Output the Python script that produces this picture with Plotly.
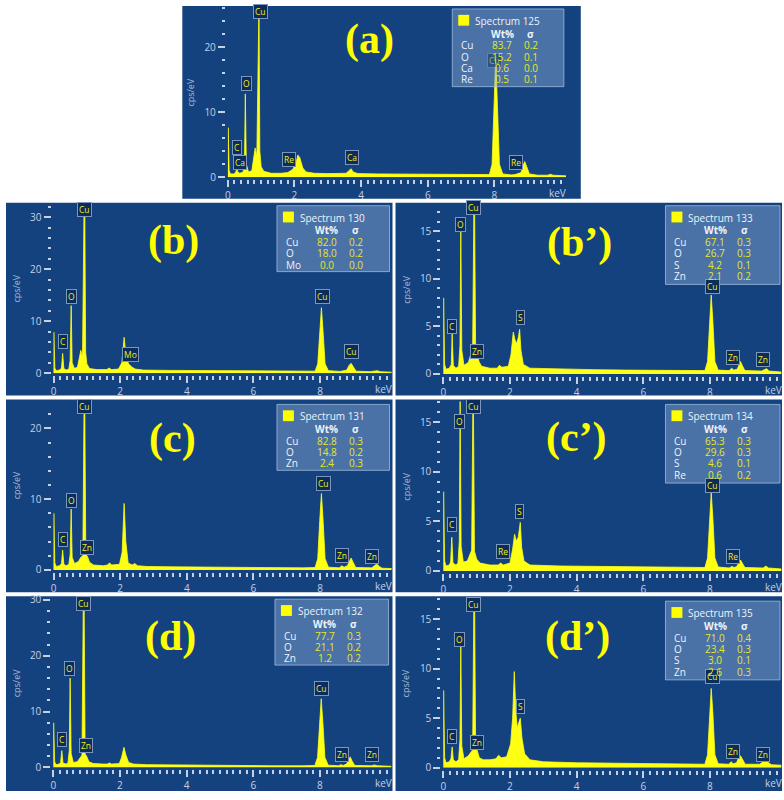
import plotly.graph_objects as go

W, H = 784, 800

# ---- data ----
panel_keys = ["a", "b", "b2", "c", "c2", "d", "d2"]
panel_names = ["(a)", "(b)", "(b’)", "(c)", "(c’)", "(d)", "(d’)"]
spectrum_ids = [125, 130, 133, 131, 134, 132, 135]

# spectra as (keV, cps/eV) vertices
spec_a = [(0, 0), (0.01, 7.6), (0.04, 1.0), (0.08, 0.5), (0.18, 0.5), (0.24, 0.8), (0.27, 1.3), (0.3, 0.8),
          (0.36, 0.6), (0.46, 0.8), (0.5, 2.5), (0.525, 12.8), (0.555, 2.0), (0.62, 0.8), (0.72, 1.0),
          (0.78, 3.0), (0.82, 4.5), (0.87, 3.2), (0.915, 27), (0.935, 27), (0.96, 4), (1.0, 1.6), (1.08, 0.9),
          (1.3, 0.6), (1.6, 0.6), (1.7, 0.7), (1.8, 0.7), (1.95, 1.2), (2.05, 2.2), (2.1, 3.4), (2.16, 3.0),
          (2.25, 1.4), (2.35, 0.8), (2.6, 0.6), (3.0, 0.55), (3.55, 0.6), (3.65, 1.0), (3.7, 1.3), (3.76, 0.8),
          (3.9, 0.55), (4.5, 0.5), (5.5, 0.45), (6.5, 0.4), (7.5, 0.35), (7.85, 0.4), (7.93, 2.0), (7.99, 11),
          (8.04, 18.6), (8.09, 11), (8.15, 2.0), (8.25, 0.5), (8.5, 0.35), (8.62, 0.4), (8.7, 0.5), (8.8, 0.7),
          (8.86, 1.8), (8.91, 2.4), (8.97, 1.6), (9.05, 0.5), (9.3, 0.3), (9.6, 0.3), (9.68, 0.45), (9.76, 0.3),
          (10.15, 0.2)]
spec_b = [(0, 0), (0.01, 7.9), (0.04, 1.0), (0.08, 0.5), (0.18, 0.6), (0.24, 1.0), (0.275, 3.8), (0.31, 0.9),
          (0.38, 0.6), (0.46, 0.8), (0.5, 2.5), (0.53, 13.0), (0.56, 2.0), (0.63, 0.9), (0.72, 1.2), (0.78, 3.0),
          (0.82, 4.4), (0.87, 3.0), (0.915, 31), (0.94, 31), (0.965, 4), (1.0, 1.8), (1.08, 0.9), (1.3, 0.7),
          (1.6, 0.7), (1.67, 1.0), (1.74, 0.7), (1.95, 0.8), (2.05, 2.0), (2.12, 6.9), (2.17, 3.5), (2.25, 1.8),
          (2.35, 1.2), (2.45, 0.8), (2.7, 0.6), (3.5, 0.55), (4.5, 0.5), (5.5, 0.45), (6.5, 0.4), (7.5, 0.35),
          (7.85, 0.4), (7.93, 1.8), (7.99, 8.0), (8.04, 12.6), (8.09, 8.0), (8.15, 1.8), (8.25, 0.5), (8.6, 0.35),
          (8.8, 0.6), (8.87, 1.5), (8.93, 1.9), (8.99, 1.2), (9.08, 0.4), (9.5, 0.3), (9.65, 0.4), (9.72, 0.5),
          (9.8, 0.3), (10.15, 0.2)]
spec_b2 = [(0, 0), (0.01, 8.0), (0.04, 1.0), (0.08, 0.5), (0.18, 0.6), (0.24, 1.0), (0.265, 4.2), (0.3, 0.9),
           (0.38, 0.6), (0.46, 0.8), (0.5, 3), (0.525, 15.0), (0.555, 2.5), (0.62, 0.9), (0.75, 1.2), (0.82, 2.0),
           (0.88, 2.4), (0.915, 16.8), (0.94, 16.8), (0.97, 2.6), (1.02, 2.2), (1.07, 1.3), (1.15, 0.8),
           (1.4, 0.6), (1.62, 0.6), (1.68, 0.9), (1.76, 0.7), (1.95, 0.8), (2.03, 2.0), (2.1, 4.4), (2.15, 3.6),
           (2.2, 3.2), (2.25, 3.8), (2.29, 4.7), (2.33, 2.5), (2.4, 1.0), (2.6, 0.6), (3.5, 0.5), (4.5, 0.45),
           (5.5, 0.4), (6.5, 0.35), (7.5, 0.3), (7.85, 0.35), (7.93, 1.3), (7.99, 5.5), (8.04, 8.3), (8.09, 5.5),
           (8.15, 1.3), (8.25, 0.4), (8.58, 0.35), (8.65, 0.6), (8.72, 0.4), (8.82, 0.5), (8.87, 1.0),
           (8.92, 1.3), (8.97, 0.9), (9.05, 0.35), (9.55, 0.3), (9.64, 0.5), (9.7, 0.55), (9.78, 0.3),
           (10.15, 0.2)]
spec_c = [(0, 0), (0.01, 8.0), (0.04, 1.0), (0.08, 0.5), (0.18, 0.6), (0.24, 0.9), (0.275, 2.8), (0.31, 0.8),
          (0.38, 0.6), (0.46, 0.8), (0.5, 2.2), (0.53, 8.6), (0.56, 1.8), (0.63, 0.9), (0.75, 1.2), (0.82, 1.8),
          (0.88, 2.0), (0.915, 22.3), (0.94, 22.3), (0.97, 2.2), (1.02, 1.9), (1.08, 1.1), (1.2, 0.7),
          (1.5, 0.6), (1.62, 0.7), (1.68, 1.0), (1.75, 0.7), (1.98, 0.8), (2.06, 2.5), (2.12, 9.4), (2.17, 4.0),
          (2.24, 1.0), (2.36, 0.7), (2.44, 0.9), (2.52, 0.6), (2.8, 0.5), (3.5, 0.45), (4.5, 0.4), (5.5, 0.35),
          (6.5, 0.3), (7.5, 0.3), (7.85, 0.35), (7.93, 1.6), (7.99, 7.0), (8.04, 10.8), (8.09, 7.0),
          (8.15, 1.6), (8.25, 0.4), (8.58, 0.3), (8.65, 0.6), (8.72, 0.4), (8.82, 0.6), (8.88, 1.3),
          (8.93, 1.7), (8.99, 1.1), (9.07, 0.35), (9.55, 0.3), (9.63, 0.6), (9.7, 0.85), (9.78, 0.5),
          (9.86, 0.25), (10.15, 0.2)]
spec_c2 = [(0, 0), (0.01, 8.0), (0.04, 1.0), (0.08, 0.5), (0.18, 0.6), (0.22, 0.9), (0.255, 3.4), (0.29, 0.8),
           (0.38, 0.6), (0.44, 0.8), (0.48, 3.0), (0.505, 17.2), (0.535, 2.5), (0.6, 0.9), (0.72, 1.0),
           (0.8, 1.8), (0.85, 2.1), (0.885, 16.0), (0.905, 16.0), (0.935, 2.0), (1.0, 1.2), (1.1, 0.8),
           (1.4, 0.6), (1.65, 0.6), (1.72, 0.8), (1.8, 0.6), (2.0, 0.8), (2.08, 2.2), (2.14, 3.7), (2.19, 3.0),
           (2.25, 3.4), (2.31, 4.9), (2.35, 2.4), (2.42, 1.0), (2.6, 0.6), (3.5, 0.5), (4.5, 0.45), (5.5, 0.4),
           (6.5, 0.35), (7.5, 0.3), (7.85, 0.35), (7.93, 1.3), (7.99, 5.3), (8.04, 7.9), (8.09, 5.3),
           (8.15, 1.3), (8.25, 0.4), (8.58, 0.3), (8.66, 0.45), (8.74, 0.35), (8.82, 0.5), (8.87, 0.9),
           (8.92, 1.1), (8.97, 0.8), (9.05, 0.35), (9.6, 0.3), (9.68, 0.5), (9.76, 0.3), (10.15, 0.2)]
spec_d = [(0, 0), (0.01, 8.0), (0.04, 1.0), (0.08, 0.5), (0.18, 0.6), (0.22, 0.9), (0.255, 3.0), (0.29, 0.8),
          (0.38, 0.6), (0.44, 0.8), (0.48, 3.0), (0.505, 16.0), (0.535, 2.5), (0.6, 0.9), (0.72, 1.0),
          (0.8, 1.8), (0.86, 2.2), (0.9, 29.5), (0.925, 29.5), (0.955, 2.4), (1.0, 2.0), (1.07, 1.0),
          (1.2, 0.7), (1.5, 0.6), (1.62, 0.6), (1.68, 0.8), (1.75, 0.6), (1.98, 0.7), (2.05, 1.8), (2.12, 3.6),
          (2.18, 2.2), (2.26, 0.9), (2.4, 0.6), (2.8, 0.5), (3.5, 0.45), (4.5, 0.4), (5.5, 0.35), (6.5, 0.3),
          (7.5, 0.3), (7.85, 0.35), (7.93, 1.8), (7.99, 8.0), (8.04, 12.3), (8.09, 8.0), (8.15, 1.8),
          (8.25, 0.4), (8.56, 0.3), (8.63, 0.5), (8.7, 0.35), (8.8, 0.6), (8.86, 1.4), (8.91, 1.9), (8.97, 1.1),
          (9.05, 0.35), (9.55, 0.3), (9.64, 0.45), (9.72, 0.3), (10.15, 0.2)]
spec_d2 = [(0, 0), (0.01, 7.8), (0.04, 1.0), (0.08, 0.5), (0.18, 0.6), (0.23, 0.9), (0.265, 2.1), (0.3, 0.8),
           (0.38, 0.6), (0.46, 0.8), (0.5, 2.8), (0.525, 12.2), (0.555, 2.2), (0.62, 0.9), (0.75, 1.2),
           (0.82, 1.6), (0.88, 1.8), (0.915, 16.3), (0.94, 16.3), (0.97, 2.0), (1.02, 1.7), (1.08, 1.0),
           (1.2, 0.8), (1.4, 0.8), (1.58, 0.9), (1.66, 1.25), (1.74, 1.0), (1.9, 1.1), (2.02, 2.4), (2.08, 5.0),
           (2.13, 9.7), (2.18, 5.5), (2.22, 4.0), (2.27, 4.6), (2.31, 5.0), (2.36, 3.0), (2.44, 1.4), (2.6, 0.8),
           (3.0, 0.6), (4.0, 0.5), (5.0, 0.45), (6.0, 0.4), (7.0, 0.35), (7.85, 0.35), (7.93, 1.3), (7.99, 5.5),
           (8.04, 8.0), (8.09, 5.5), (8.15, 1.3), (8.25, 0.4), (8.56, 0.35), (8.64, 0.6), (8.7, 0.4), (8.8, 0.5),
           (8.86, 1.0), (8.92, 1.2), (8.98, 0.8), (9.06, 0.35), (9.5, 0.35), (9.6, 0.6), (9.68, 0.85),
           (9.76, 0.5), (9.85, 0.3), (10.15, 0.25)]
spectra = [spec_a, spec_b, spec_b2, spec_c, spec_c2, spec_d, spec_d2]

# quantification tables
elements = [["Cu", "O", "Ca", "Re"], ["Cu", "O", "Mo"], ["Cu", "O", "S", "Zn"], ["Cu", "O", "Zn"],
            ["Cu", "O", "S", "Re"], ["Cu", "O", "Zn"], ["Cu", "O", "S", "Zn"]]
wt_pct = [[83.7, 15.2, 0.6, 0.5], [82.0, 18.0, 0.0], [67.1, 26.7, 4.2, 2.1], [82.8, 14.8, 2.4],
          [65.3, 29.6, 4.6, 0.6], [77.7, 21.1, 1.2], [71.0, 23.4, 3.0, 2.6]]
sigma = [[0.2, 0.1, 0.0, 0.1], [0.2, 0.2, 0.0], [0.3, 0.3, 0.1, 0.2], [0.3, 0.2, 0.3],
         [0.3, 0.3, 0.1, 0.2], [0.3, 0.2, 0.2], [0.4, 0.3, 0.1, 0.3]]

# peak callouts: (element, keV, cps/eV at bottom of the tag)
peaks = [
    [("Cu", 0.97, 24.3), ("O", 0.55, 13.2), ("C", 0.29, 3.4), ("Ca", 0.37, 1.1), ("Re", 1.85, 1.6),
     ("Ca", 3.73, 1.9), ("Cu", 8.01, 16.7), ("Re", 8.65, 1.1)],
    [("Cu", 0.94, 30.0), ("O", 0.54, 13.3), ("C", 0.28, 4.7), ("Mo", 2.3, 2.2), ("Cu", 8.08, 13.3),
     ("Cu", 8.95, 2.8)],
    [("O", 0.51, 14.9), ("Cu", 0.91, 16.7), ("C", 0.25, 4.2), ("Zn", 1.0, 1.6), ("S", 2.31, 5.1),
     ("Cu", 8.07, 8.4), ("Zn", 8.68, 0.9), ("Zn", 9.58, 0.75)],
    [("Cu", 0.92, 22.1), ("O", 0.53, 8.8), ("C", 0.28, 3.2), ("Zn", 1.0, 2.1), ("Cu", 8.1, 11.1),
     ("Zn", 8.67, 1.0), ("Zn", 9.57, 0.9)],
    [("O", 0.5, 14.3), ("Cu", 0.91, 15.8), ("C", 0.25, 3.9), ("Re", 1.79, 1.25), ("S", 2.28, 5.2),
     ("Cu", 8.07, 7.9), ("Re", 8.68, 0.75)],
    [("Cu", 0.92, 28.0), ("O", 0.5, 16.3), ("C", 0.25, 3.65), ("Zn", 0.98, 2.5), ("Cu", 8.06, 12.75),
     ("Zn", 8.65, 1.0), ("Zn", 9.57, 1.0)],
    [("Cu", 0.91, 15.7), ("O", 0.5, 12.2), ("C", 0.26, 2.4), ("Zn", 1.0, 1.75), ("S", 2.32, 5.4),
     ("Cu", 8.07, 8.4), ("Zn", 8.68, 0.9), ("Zn", 9.58, 0.6)],
]

x_ticks = [0, 2, 4, 6, 8]

# ---- layout geometry (pixels) ----
geom = {
    "a":  dict(box=(180, 0, 580, 196), ox=225.7, zy=174.0, top=2, ymax=26.0, major=10, minor=2,
               leg=(451, 3, 563, 82), lab=(368, 34)),
    "b":  dict(box=(3, 200, 391, 396), ox=50.7, zy=373.3, top=202, ymax=32.4, major=10, minor=2,
               leg=(275, 203, 388, 270), lab=(171, 238)),
    "b2": dict(box=(394, 200, 782, 396), ox=442.0, zy=374.0, top=202, ymax=17.8, major=5, minor=1,
               leg=(665, 203, 780, 283), lab=(579, 240)),
    "c":  dict(box=(3, 400, 391, 596), ox=50.7, zy=573.3, top=402, ymax=23.8, major=10, minor=2,
               leg=(275, 405, 388, 472), lab=(170, 440)),
    "c2": dict(box=(394, 400, 782, 596), ox=442.0, zy=574.3, top=402, ymax=17.1, major=5, minor=1,
               leg=(665, 405, 780, 485), lab=(576, 439)),
    "d":  dict(box=(3, 600, 391, 798), ox=50.5, zy=774.0, top=602, ymax=30.3, major=10, minor=2,
               leg=(273, 603, 387, 670), lab=(168, 641)),
    "d2": dict(box=(394, 600, 782, 798), ox=442.0, zy=774.3, top=602, ymax=17.1, major=5, minor=1,
               leg=(665, 605, 780, 685), lab=(577, 641)),
}
PX_PER_KEV = 33.45
XMAX = 10.15

PANEL = "#14427f"
YEL = "#ffff14"
TICK = "#c4d0e4"
WHITE = "#eef2fa"
VAL = "#e6e62a"
FONT = "Open Sans"


def fx(p):
    return p / W


def fy(p):
    return 1 - p / H


def note(text, x, y, xa="center", size=10, color=WHITE, **kw):
    return dict(text=text, xref="paper", yref="paper", x=x, y=y, xanchor=xa, yanchor="middle",
                showarrow=False, font=dict(family=FONT, size=size, color=color), **kw)


fig = go.Figure()
axes = {}
shapes = []
ann = []

for i, key in enumerate(panel_keys):
    g = geom[key]
    n = "" if i == 0 else str(i + 1)
    xa, ya = "x" + n, "y" + n
    bx0, by0, bx1, by1 = g["box"]
    shapes.append(dict(type="rect", xref="paper", yref="paper", x0=fx(bx0), x1=fx(bx1),
                       y0=fy(by1), y1=fy(by0), fillcolor=PANEL, line=dict(width=0), layer="below"))

    kev, cps = zip(*spectra[i])
    fig.add_trace(go.Scatter(x=kev, y=cps, xaxis=xa, yaxis=ya, mode="lines", fill="tozeroy",
                             line=dict(color=YEL, width=0.8), fillcolor=YEL,
                             hoverinfo="skip", showlegend=False))

    ox, zy = g["ox"], g["zy"]
    axes["xaxis" + n] = dict(
        domain=[fx(ox), fx(ox + XMAX * PX_PER_KEV)], range=[0, XMAX], anchor="free",
        position=fy(zy + 2), tickmode="array", tickvals=x_ticks, ticks="outside",
        ticklen=7, tickwidth=2, tickcolor=TICK,
        minor=dict(dtick=0.2, tick0=0, ticks="outside", ticklen=4, tickwidth=2, tickcolor=TICK),
        showgrid=False, zeroline=False, showline=False,
        tickfont=dict(family=FONT, size=10, color=TICK), fixedrange=True)
    axes["yaxis" + n] = dict(
        domain=[fy(zy), fy(g["top"])], range=[0, g["ymax"]], anchor="free",
        position=fx(ox - 3), tick0=0, dtick=g["major"], ticks="outside",
        ticklen=7, tickwidth=2, tickcolor=TICK,
        minor=dict(dtick=g["minor"], tick0=0, ticks="outside", ticklen=3, tickwidth=2, tickcolor=TICK),
        showgrid=False, zeroline=False, showline=False,
        tickfont=dict(family=FONT, size=10, color=TICK), fixedrange=True)

    # axis titles
    ann.append(note("cps/eV", fx(ox - 37), fy((zy + g["top"]) / 2), size=9, color="#a9b9d2", textangle=-90))
    ann.append(dict(text="keV", xref=xa, yref="paper", x=9.9, y=fy(zy + 16), xanchor="center",
                    yanchor="middle", showarrow=False, font=dict(family=FONT, size=10, color=TICK)))

    # panel tag
    lx, ly = g["lab"]
    ann.append(dict(text=panel_names[i], xref="paper", yref="paper", x=fx(lx), y=fy(ly),
                    xanchor="center", yanchor="middle", showarrow=False,
                    font=dict(family="Liberation Serif", size=42, color="#ffff00", weight="bold")))

    # peak callouts
    for el, pk, pc in peaks[i]:
        hidden = key == "a" and pk > 7.5 and el == "Cu"
        ann.append(dict(text=el, xref=xa, yref=ya, x=pk, y=pc, xanchor="center", yanchor="bottom",
                        showarrow=False, font=dict(family=FONT, size=8.5, color="#f2ee1a"),
                        bgcolor="#0c2c5a", bordercolor="#7d96bd", borderwidth=1, borderpad=1,
                        opacity=0.45 if hidden else 1))

    # quantification box
    L, T, R, B = g["leg"]
    shapes.append(dict(type="rect", xref="paper", yref="paper", x0=fx(L), x1=fx(R), y0=fy(B), y1=fy(T),
                       fillcolor="rgba(140,172,215,0.45)", line=dict(color="rgba(175,200,230,0.7)", width=1)))
    shapes.append(dict(type="rect", xref="paper", yref="paper", x0=fx(L + 6), x1=fx(L + 17),
                       y0=fy(T + 17), y1=fy(T + 6), fillcolor="#ffff00", line=dict(width=0)))
    ann.append(note(f"Spectrum {spectrum_ids[i]}", fx(L + 21), fy(T + 12), xa="left"))
    ann.append(note("<b>Wt%</b>", fx(L + 50), fy(T + 25)))
    ann.append(note("<b>σ</b>", fx(L + 79), fy(T + 25)))
    for r, el in enumerate(elements[i]):
        yy = fy(T + 37 + 11.5 * r)
        ann.append(note(el, fx(L + 7), yy, xa="left"))
        ann.append(note(f"{wt_pct[i][r]:.1f}", fx(L + 50), yy, color=VAL))
        ann.append(note(f"{sigma[i][r]:.1f}", fx(L + 79), yy, color=VAL))

fig.update_layout(
    width=W, height=H, margin=dict(l=0, r=0, t=0, b=0),
    paper_bgcolor="white", plot_bgcolor="rgba(0,0,0,0)",
    showlegend=False, shapes=shapes, annotations=ann, **axes)

# page margin off so the 784x800 figure fills the window exactly
fig.write_html("out.html", config={"displayModeBar": False},
               post_script="document.body.style.margin='0';document.body.style.overflow='hidden';")
